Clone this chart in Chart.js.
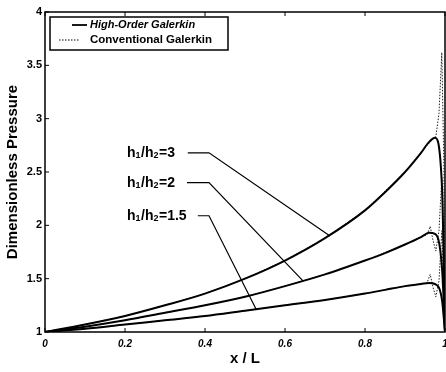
<!DOCTYPE html>
<html>
<head>
<meta charset="utf-8">
<script src="https://cdn.jsdelivr.net/npm/chart.js@4.4.1/dist/chart.umd.min.js"></script>
<style>
html, body { margin: 0; padding: 0; background: #fff; }
</style>
</head>
<body>
<canvas id="c" width="446" height="372"></canvas>
<script>
// values
const xHigh = [0, 0.1, 0.2, 0.3, 0.4, 0.5, 0.6, 0.7, 0.8, 0.85, 0.9, 0.94, 0.96, 0.975, 0.9925, 1.0];
const highK3 = [1.00, 1.07, 1.15, 1.25, 1.36, 1.50, 1.67, 1.88, 2.14, 2.31, 2.50, 2.68, 2.78, 2.82, 2.36, 1.00];
const highK2 = [1.00, 1.05, 1.11, 1.18, 1.25, 1.33, 1.43, 1.54, 1.67, 1.74, 1.82, 1.89, 1.93, 1.92, 1.60, 1.00];
const highK15 = [1.00, 1.03, 1.07, 1.11, 1.15, 1.20, 1.25, 1.30, 1.36, 1.395, 1.43, 1.45, 1.46, 1.45, 1.30, 1.00];

const xConv = [0, 0.1, 0.2, 0.3, 0.4, 0.5, 0.6, 0.7, 0.8, 0.9, 0.94, 0.955, 0.963, 0.97, 0.977, 0.985, 0.992, 0.997, 1.0];
const convK3 = [1.00, 1.07, 1.15, 1.25, 1.36, 1.50, 1.67, 1.88, 2.14, 2.50, 2.68, 2.75, 2.78, 2.81, 2.83, 3.05, 3.62, 2.60, 1.00];
const convK2 = [1.00, 1.05, 1.11, 1.18, 1.25, 1.33, 1.43, 1.54, 1.67, 1.82, 1.89, 1.91, 1.99, 1.86, 1.76, 1.95, 2.45, 1.70, 1.00];
const convK15 = [1.00, 1.03, 1.07, 1.11, 1.15, 1.20, 1.25, 1.30, 1.36, 1.43, 1.45, 1.46, 1.54, 1.42, 1.33, 1.48, 1.95, 1.35, 1.00];

// leader lines from the labels to the curves
const ratios = ['3', '2', '1.5'];
const labelX = 0.205;
const labelY = [2.68, 2.40, 2.09];
const leadX = [[0.357, 0.41, 0.7125], [0.355, 0.41, 0.645], [0.382, 0.41, 0.5275]];
const leadY = [[2.68, 2.68, 1.90], [2.40, 2.40, 1.48], [2.09, 2.09, 1.216]];

const xTickLabels = ['0', '0.2', '0.4', '0.6', '0.8', '1'];
const yTickLabels = ['1', '1.5', '2', '2.5', '3', '3.5', '4'];
const legendNames = ['High-Order Galerkin', 'Conventional Galerkin'];

const FONT = '"Liberation Sans", Arial, sans-serif';

function pts(xs, ys) {
    return xs.map((x, i) => ({x: x, y: ys[i]}));
}

function solid(ys) {
    return {data: pts(xHigh, ys), borderColor: '#000', borderWidth: 2, pointRadius: 0,
        cubicInterpolationMode: 'monotone', fill: false};
}
function dotted(ys) {
    return {data: pts(xConv, ys), borderColor: '#222', borderWidth: 1, borderDash: [1.5, 1.5],
        pointRadius: 0, tension: 0, fill: false};
}

let datasets = [solid(highK3), solid(highK2), solid(highK15), dotted(convK3), dotted(convK2), dotted(convK15)];
for (let i = 0; i < leadX.length; i++) {
    datasets.push({data: pts(leadX[i], leadY[i]), borderColor: '#000', borderWidth: 1.2,
        pointRadius: 0, tension: 0, fill: false});
}

const decor = {
    id: 'decor',
    afterDraw(chart) {
        const ctx = chart.ctx;
        const a = chart.chartArea;
        const xs = chart.scales.x, ys = chart.scales.y;
        ctx.save();
        // frame
        ctx.strokeStyle = '#000';
        ctx.lineWidth = 1.5;
        ctx.strokeRect(a.left, a.top, a.right - a.left, a.bottom - a.top);
        // inward ticks
        ctx.lineWidth = 1;
        ctx.beginPath();
        xs.ticks.forEach(t => {
            const px = xs.getPixelForValue(t.value);
            ctx.moveTo(px, a.bottom); ctx.lineTo(px, a.bottom - 4);
            ctx.moveTo(px, a.top); ctx.lineTo(px, a.top + 4);
        });
        ys.ticks.forEach(t => {
            const py = ys.getPixelForValue(t.value);
            ctx.moveTo(a.left, py); ctx.lineTo(a.left + 4, py);
        });
        ctx.stroke();

        // curve labels h1/h2=...
        ctx.fillStyle = '#000';
        ctx.textBaseline = 'middle';
        ctx.textAlign = 'left';
        for (let i = 0; i < ratios.length; i++) {
            let px = xs.getPixelForValue(labelX);
            const py = ys.getPixelForValue(labelY[i]);
            const parts = [['h', 0], ['1', 1], ['/h', 0], ['2', 1], ['=' + ratios[i], 0]];
            parts.forEach(p => {
                ctx.font = p[1] ? 'bold 9px ' + FONT : 'bold 14px ' + FONT;
                ctx.fillText(p[0], px, py + (p[1] ? 3 : 0));
                px += ctx.measureText(p[0]).width + (p[1] ? 0.5 : 0);
            });
        }

        // legend box
        const bx = a.left + 5, by = a.top + 5, bw = 178, bh = 33;
        ctx.fillStyle = '#fff';
        ctx.fillRect(bx, by, bw, bh);
        ctx.lineWidth = 1.5;
        ctx.strokeRect(bx, by, bw, bh);
        ctx.lineWidth = 1.8;
        ctx.beginPath();
        ctx.moveTo(bx + 22, by + 8); ctx.lineTo(bx + 37, by + 8);
        ctx.stroke();
        ctx.lineWidth = 1;
        ctx.setLineDash([1.5, 1.5]);
        ctx.beginPath();
        ctx.moveTo(bx + 9, by + 23); ctx.lineTo(bx + 29, by + 23);
        ctx.stroke();
        ctx.setLineDash([]);
        ctx.fillStyle = '#000';
        ctx.font = 'italic bold 11px ' + FONT;
        ctx.fillText(legendNames[0], bx + 40, by + 8);
        ctx.font = 'bold 11.5px ' + FONT;
        ctx.fillText(legendNames[1], bx + 40, by + 23);
        ctx.restore();
    }
};

new Chart(document.getElementById('c'), {
    type: 'line',
    data: {datasets: datasets},
    options: {
        responsive: false,
        animation: false,
        layout: {padding: {top: 12, right: 1, left: 0, bottom: 0}},
        plugins: {legend: {display: false}, tooltip: {enabled: false}},
        scales: {
            x: {
                type: 'linear', min: 0, max: 1,
                grid: {display: false, drawTicks: false},
                border: {display: false},
                ticks: {stepSize: 0.2, padding: 6, color: '#000',
                    font: {family: FONT, size: 10, weight: 'bold', style: 'italic'},
                    callback: (v, i) => xTickLabels[i]},
                title: {display: true, text: 'x / L', color: '#000', padding: {top: 2, bottom: 4},
                    font: {family: FONT, size: 15, weight: 'bold'}},
                afterFit(s) { s.height = 40; s.paddingLeft = 0; s.paddingRight = 0; }
            },
            y: {
                type: 'linear', min: 1, max: 4,
                grid: {display: false, drawTicks: false},
                border: {display: false},
                ticks: {stepSize: 0.5, padding: 3, color: '#000',
                    font: {family: FONT, size: 11, weight: 'bold'},
                    callback: (v, i) => yTickLabels[i]},
                title: {display: true, text: 'Dimensionless Pressure', color: '#000', padding: {top: 4, bottom: 2},
                    font: {family: FONT, size: 15, weight: 'bold'}},
                afterFit(s) { s.width = 45; s.paddingTop = 0; s.paddingBottom = 0; }
            }
        }
    },
    plugins: [decor]
});
</script>
</body>
</html>
